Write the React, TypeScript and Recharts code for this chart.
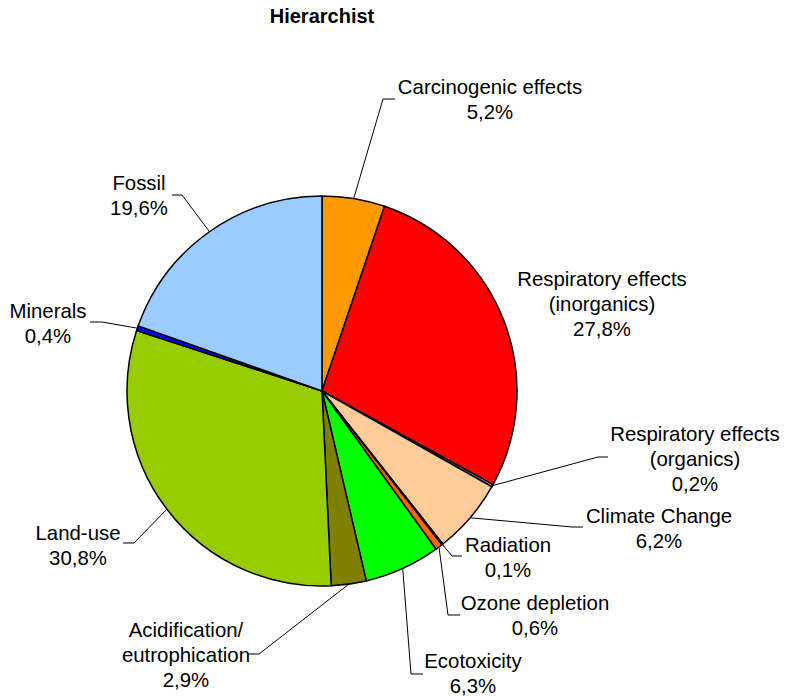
import React from "react";
import { PieChart, Pie, Cell } from "recharts";

const categories = [
  "Carcinogenic effects",
  "Respiratory effects\n(inorganics)",
  "Respiratory effects\n(organics)",
  "Climate Change",
  "Radiation",
  "Ozone depletion",
  "Ecotoxicity",
  "Acidification/\neutrophication",
  "Land-use",
  "Minerals",
  "Fossil",
];

const shares = [5.2, 27.8, 0.2, 6.2, 0.1, 0.6, 6.3, 2.9, 30.8, 0.4, 19.6];

const colors = [
  "#FF9900",
  "#FF0000",
  "#CC99FF",
  "#FFCC99",
  "#808080",
  "#FF6600",
  "#00FF00",
  "#808000",
  "#99CC00",
  "#0000FF",
  "#99CCFF",
];

// label placement, offsets from the pie centre (elbow of leader, end of leader, text centre x, first baseline)
const labelLayout = [
  { ex: 61, ey: -292, hx: 73, tx: 168, ty: -297 },
  { tx: 280, ty: -105 },
  { ex: 276, ey: 66, hx: 286, tx: 373, ty: 50 },
  { ex: 250, ey: 136, hx: 261, tx: 337, ty: 132 },
  { ex: 130, ey: 165, hx: 140, tx: 186, ty: 161 },
  { ex: 126, ey: 224, hx: 138, tx: 213, ty: 219 },
  { ex: 89, ey: 283, hx: 101, tx: 151, ty: 277 },
  { ex: -63, ey: 263, hx: -74, tx: -136, ty: 246 },
  { ex: -188, ey: 152, hx: -199, tx: -244, ty: 149 },
  { ex: -220, ey: -69, hx: -232, tx: -274, ty: -73 },
  { ex: -140, ey: -196, hx: -150, tx: -183, ty: -201 },
];

const data = categories.map((name, i) => ({ name, value: shares[i] }));

const FONT = "'Liberation Sans', Arial, sans-serif";
const RAD = Math.PI / 180;

const renderLabel = (props: any) => {
  const { cx, cy, midAngle, outerRadius, index, value } = props;
  const lay: any = labelLayout[index];
  const lines = [...categories[index].split("\n"), `${value.toFixed(1).replace(".", ",")}%`];
  const px = cx + outerRadius * Math.cos(-midAngle * RAD);
  const py = cy + outerRadius * Math.sin(-midAngle * RAD);
  return (
    <g key={`lbl-${index}`}>
      {lay.ex !== undefined && (
        <polyline
          points={`${px},${py} ${cx + lay.ex},${cy + lay.ey} ${cx + lay.hx},${cy + lay.ey}`}
          fill="none"
          stroke="#000"
          strokeWidth={1}
        />
      )}
      <text
        x={cx + lay.tx}
        y={cy + lay.ty}
        textAnchor="middle"
        fontFamily={FONT}
        fontSize={20.4}
        fill="#000"
      >
        {lines.map((l, j) => (
          <tspan key={j} x={cx + lay.tx} dy={j === 0 ? 0 : 25}>
            {l}
          </tspan>
        ))}
      </text>
    </g>
  );
};

export default function App() {
  return (
    <div style={{ position: "absolute", left: 0, top: 0, background: "#fff" }}>
      <PieChart width={786} height={696} margin={{ top: 0, right: 0, bottom: 0, left: 0 }}>
        <text
          x={322}
          y={23}
          textAnchor="middle"
          fontFamily={FONT}
          fontWeight="bold"
          fontSize={20}
          fill="#000"
        >
          Hierarchist
        </text>
        <Pie
          data={data}
          dataKey="value"
          nameKey="name"
          cx={322}
          cy={391}
          outerRadius={195}
          startAngle={90}
          endAngle={-270}
          stroke="#000"
          strokeWidth={1.5}
          label={renderLabel}
          labelLine={false}
          isAnimationActive={false}
        >
          {data.map((d, i) => (
            <Cell key={d.name} fill={colors[i]} />
          ))}
        </Pie>
      </PieChart>
    </div>
  );
}
